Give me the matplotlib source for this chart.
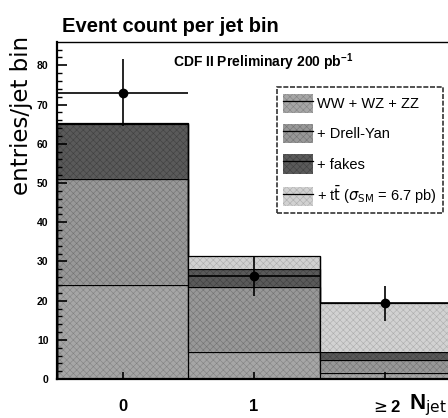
import numpy as np
import matplotlib.pyplot as plt
from matplotlib.patches import Patch
from matplotlib.lines import Line2D

plt.rcParams['font.family'] = ['Liberation Sans Narrow', 'Liberation Sans', 'DejaVu Sans']
plt.rcParams['hatch.linewidth'] = 0.4

# ---- jet bins ----
bins = [0, 1, 2]
bin_labels = ['0', '1', r'$\geq$2']
edges = [-0.5, 0.5, 1.5, 2.5]

# stacked background contributions (entries / jet bin)
ww = [24.0, 7.0, 1.5]
drell_yan = [27.0, 16.5, 3.5]
fakes = [14.0, 4.5, 2.0]
ttbar = [0.3, 3.5, 12.5]

# observed data
data = [73.0, 26.3, 19.3]
data_err = [8.5, 5.1, 4.4]

fig = plt.figure(figsize=(4.48, 4.18), dpi=100)
ax = fig.add_axes([0.127, 0.093, 0.88, 0.807])

layers = [
    (ww, '#a6a6a6', '#828282', 'WW + WZ + ZZ'),
    (drell_yan, '#989898', '#737373', '+ Drell-Yan'),
    (fakes, '#5a5a5a', '#404040', '+ fakes'),
    (ttbar, '#d2d2d2', '#adadad', r'+ t$\bar{\rm t}$ ($\sigma_{\rm SM}$ = 6.7 pb)'),
]

bottom = np.zeros(len(bins))
handles = []
for vals, fc, hc, lab in layers:
    vals = np.array(vals)
    ax.bar(bins, vals, width=1.0, bottom=bottom, color=fc, edgecolor=hc,
           linewidth=0, hatch='xxxxx')
    top = bottom + vals
    ax.stairs(top, edges, color='black', linewidth=0.9)
    bottom = top
    handles.append((Patch(facecolor=fc, edgecolor=hc, hatch='xxxxx', linewidth=0),
                    Line2D([], [], color='black', linewidth=0.9)))

# bin boundaries of the stack
ax.vlines(edges[1:3], 0, [max(a, b) for a, b in zip(bottom[:-1], bottom[1:])],
          color='black', linewidth=0.9)

ax.errorbar(bins, data, yerr=data_err, xerr=0.5, fmt='o', color='black',
            markersize=6, elinewidth=1.2, capsize=0, zorder=5)

ax.set_xlim(-0.5, 2.5)
ax.set_ylim(0, 86)
ax.set_xticks(bins)
ax.set_xticklabels(bin_labels, fontsize=12, fontweight='bold')
ax.set_yticks(np.arange(0, 90, 10))
ax.set_yticks(np.arange(0, 86, 2), minor=True)
ax.tick_params(axis='y', which='major', direction='in', length=7, width=1.2,
               labelsize=7.5, pad=6)
ax.tick_params(axis='y', which='minor', direction='in', length=3.5, width=1)
ax.tick_params(axis='x', direction='in', length=5, width=1.2, pad=14)
for lbl in ax.get_yticklabels():
    lbl.set_fontweight('bold')
for s in ['left', 'bottom']:
    ax.spines[s].set_linewidth(1.6)
ax.spines['top'].set_linestyle((0, (2, 1)))
ax.spines['top'].set_linewidth(1.0)

ax.set_ylabel('entries/jet bin', fontsize=16.5, family='DejaVu Sans', labelpad=2)
ax.yaxis.set_label_coords(-0.06, 0.783)

fig.text(0.138, 0.923, 'Event count per jet bin', fontsize=14.5, fontweight='bold')
ax.text(0.295, 0.94, r'CDF II Preliminary 200 pb$^{\mathregular{-1}}$',
        transform=ax.transAxes, fontsize=10, fontweight='bold', va='center')
fig.text(0.912, 0.02, r'N$_{\rm jet}$', fontsize=16, fontweight='bold')

leg = ax.legend(handles, [l[3] for l in layers], loc='upper left',
                bbox_to_anchor=(0.558, 0.866), fontsize=10.5, frameon=True,
                fancybox=False, edgecolor='black', handlelength=2.0,
                handleheight=1.7, labelspacing=0.72, borderpad=0.45,
                handletextpad=0.3, borderaxespad=0)
leg.get_frame().set_linewidth(1.2)
leg.get_frame().set_linestyle((0, (3, 1)))

fig.savefig('out.png', dpi=100)
